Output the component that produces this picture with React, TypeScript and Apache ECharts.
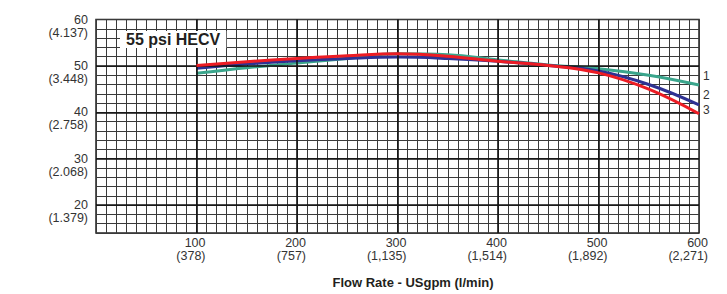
import React, { useEffect, useRef } from "react";
import * as echarts from "echarts";

// Flow rate (USgpm) sample points
const flowRates = [100, 150, 200, 250, 300, 350, 400, 450, 500, 550, 600];
// Pressure (psi) for each curve
const curve1 = [48.4, 49.6, 50.6, 51.6, 52.6, 52.4, 51.3, 50.2, 49.4, 48.0, 45.9];
const curve2 = [49.5, 50.4, 51.1, 51.6, 51.9, 51.6, 51.0, 50.1, 48.9, 46.0, 41.6];
const curve3 = [50.1, 50.9, 51.6, 52.2, 52.6, 52.1, 51.0, 50.1, 48.5, 45.0, 39.7];
const seriesNames = ["1", "2", "3"];

// Tick labels
const flowTicks = [100, 200, 300, 400, 500, 600];
const flowLpm = ["378", "757", "1,135", "1,514", "1,892", "2,271"];
const pressureTicks = [20, 30, 40, 50, 60];
const pressureBar = ["1.379", "2.068", "2.758", "3.448", "4.137"];

const chartTitle = "55 psi HECV";
const xName = "Flow Rate - USgpm (l/min)";

const FONT = "'Liberation Sans', Arial, Helvetica, sans-serif";

export default function App() {
  const ref = useRef<HTMLDivElement>(null);
  useEffect(() => {
    document.body.style.margin = "0";
    if (!ref.current) return;
    const chart = echarts.init(ref.current, undefined, { renderer: "svg" });
    const mk = (arr: number[]) => flowRates.map((x, i) => [x, arr[i]]);
    const colors = ["#3aa58c", "#2e3192", "#ed1c24"];
    const offsets = [
      [0, -9],
      [0, -9.5],
      [0, -4],
    ];
    const datas = [curve1, curve2, curve3];
    const majorLines = [
      ...pressureTicks.filter((v) => v < 60).map((v) => ({ yAxis: v })),
      ...flowTicks.filter((v) => v < 600).map((v) => ({ xAxis: v })),
    ];
    chart.setOption({
      animation: false,
      textStyle: { fontFamily: FONT },
      title: {
        text: chartTitle,
        left: 120,
        top: 31,
        backgroundColor: "#ffffff",
        padding: [0, 6, 0, 6],
        textStyle: { fontSize: 16, lineHeight: 17, fontWeight: "bold", color: "#231f20", fontFamily: FONT },
      },
      grid: {
        left: 96,
        right: 28,
        top: 14.5,
        bottom: 59,
        show: true,
        borderColor: "#222",
        borderWidth: 1.5,
        backgroundColor: "transparent",
      },
      xAxis: {
        type: "value",
        min: 0,
        max: 600,
        interval: 10,
        name: xName,
        nameLocation: "middle",
        nameGap: 43,
        nameTextStyle: {
          fontSize: 13,
          fontWeight: "bold",
          color: "#231f20",
          padding: [0, 0, 0, 31],
        },
        axisLine: { show: false },
        axisTick: { show: false },
        splitLine: { show: true, lineStyle: { color: "#3a3a3a", width: 1 } },
        axisLabel: {
          margin: 3,
          fontSize: 12.5,
          lineHeight: 13,
          color: "#333",
          align: "right",
          padding: [0, -9, 0, 0],
          formatter: (v: number) => {
            const i = flowTicks.indexOf(v);
            return i >= 0 ? `${v}\n(${flowLpm[i]})` : "";
          },
        },
      },
      yAxis: {
        type: "value",
        min: 14,
        max: 60,
        interval: 2,
        axisLine: { show: false },
        axisTick: { show: false },
        splitLine: { show: true, lineStyle: { color: "#3a3a3a", width: 1 } },
        axisLabel: {
          margin: 8,
          fontSize: 12.5,
          lineHeight: 13,
          color: "#333",
          formatter: (v: number) => {
            const i = pressureTicks.indexOf(v);
            return i >= 0 ? ` \n${v}\n(${pressureBar[i]})` : "";
          },
        },
      },
      series: [
        {
          type: "line",
          name: "grid-major",
          data: [],
          silent: true,
          markLine: {
            silent: true,
            symbol: "none",
            label: { show: false },
            lineStyle: { color: "#111", width: 1.6, type: "solid" },
            data: majorLines,
          },
        },
        ...datas.map((d, i) => ({
          type: "line",
          name: seriesNames[i],
          data: mk(d),
          smooth: 0.4,
          showSymbol: false,
          symbol: "none",
          lineStyle: { color: colors[i], width: 3 },
          itemStyle: { color: colors[i] },
          endLabel: {
            show: true,
            formatter: seriesNames[i],
            color: "#333",
            fontSize: 12,
            lineHeight: 9,
            distance: 4,
            offset: offsets[i],
          },
          z: 3 + i,
        })),
      ],
    });
    return () => chart.dispose();
  }, []);
  return <div ref={ref} style={{ width: 727, height: 294 }} />;
}
